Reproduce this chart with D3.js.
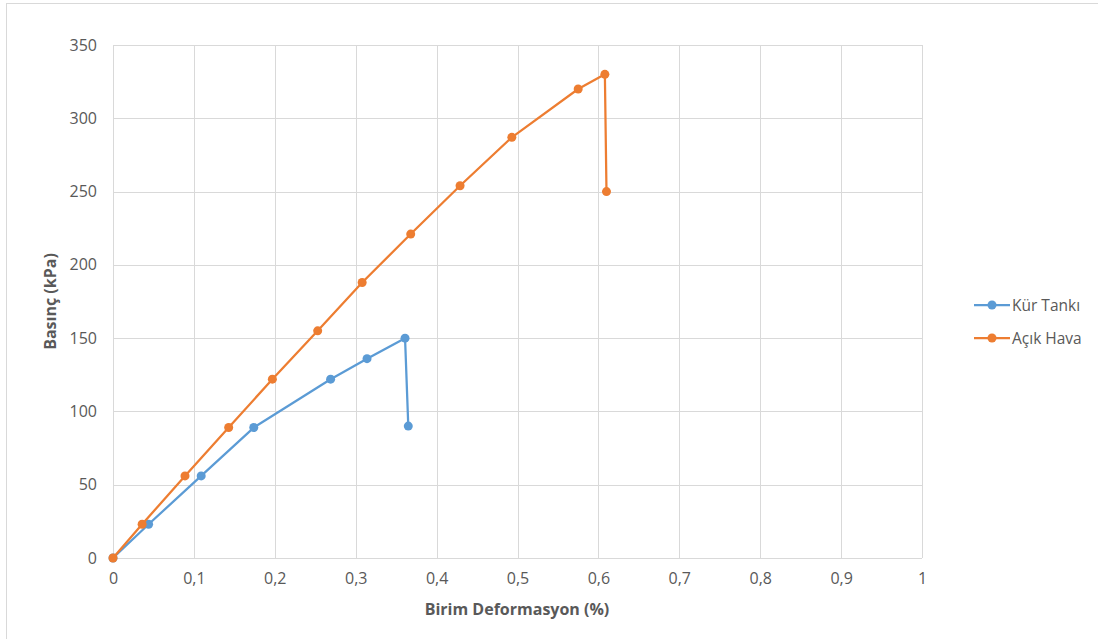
<!DOCTYPE html>
<html lang="tr">
<head>
<meta charset="UTF-8">
<title>Basınç - Birim Deformasyon</title>
<script src="https://d3js.org/d3.v7.min.js"></script>
<style>
  body { margin: 0; background: #fff; }
  text { font-family: "Open Sans", "Liberation Sans", sans-serif; }
</style>
</head>
<body>
<script>
// data
var seriesNames = ["Kür Tankı", "Açık Hava"];
var seriesColors = ["#5b9bd5", "#ed7d31"];
var kurX = [0, 0.044, 0.109, 0.174, 0.269, 0.314, 0.361, 0.365];
var kurY = [0, 23, 56, 89, 122, 136, 150, 90];
var acikX = [0, 0.036, 0.089, 0.143, 0.197, 0.253, 0.308, 0.368, 0.429, 0.493, 0.575, 0.608, 0.610];
var acikY = [0, 23, 56, 89, 122, 155, 188, 221, 254, 287, 320, 330, 250];
var xTicks = [0, 0.1, 0.2, 0.3, 0.4, 0.5, 0.6, 0.7, 0.8, 0.9, 1];
var yTicks = [0, 50, 100, 150, 200, 250, 300, 350];

var W = 1098, H = 639;
var margin = {left: 113, top: 45, right: 1098 - 922, bottom: 639 - 558};
var pw = W - margin.left - margin.right, ph = H - margin.top - margin.bottom;

var svg = d3.select("body").append("svg")
  .attr("width", W).attr("height", H);

// outer chart border
svg.append("rect")
  .attr("x", 6.5).attr("y", 3.5)
  .attr("width", W + 10).attr("height", H + 10)
  .attr("fill", "none").attr("stroke", "#d9d9d9");

var g = svg.append("g").attr("transform", "translate(" + margin.left + "," + margin.top + ")");

var x = d3.scaleLinear().domain([0, 1]).range([0, pw]);
var y = d3.scaleLinear().domain([0, 350]).range([ph, 0]);

// gridlines
g.selectAll(".vgrid").data(xTicks).enter().append("line")
  .attr("x1", d => Math.round(x(d)) + 0.5).attr("x2", d => Math.round(x(d)) + 0.5)
  .attr("y1", 0).attr("y2", ph)
  .attr("stroke", "#d9d9d9");
g.selectAll(".hgrid").data(yTicks).enter().append("line")
  .attr("x1", 0).attr("x2", pw)
  .attr("y1", d => Math.round(y(d)) + 0.5).attr("y2", d => Math.round(y(d)) + 0.5)
  .attr("stroke", "#d9d9d9");

// axes (labels only, no domain/ticks)
var fmt = d => String(d).replace(".", ",");
var xAxis = g.append("g").attr("transform", "translate(0," + ph + ")")
  .call(d3.axisBottom(x).tickValues(xTicks).tickFormat(fmt).tickSize(0).tickPadding(15));
var yAxis = g.append("g")
  .call(d3.axisLeft(y).tickValues(yTicks).tickSize(0).tickPadding(16));
[xAxis, yAxis].forEach(a => {
  a.select(".domain").remove();
  a.selectAll("text").attr("fill", "#595959").style("font-size", "16px")
    .style("font-family", "'Open Sans', sans-serif");
});
g.append("line").attr("x1", 0).attr("x2", pw).attr("y1", ph + 0.5).attr("y2", ph + 0.5)
  .attr("stroke", "#d9d9d9");

// axis titles
svg.append("text")
  .attr("x", 517).attr("y", 615)
  .attr("text-anchor", "middle")
  .attr("fill", "#595959").style("font-size", "16px").style("font-weight", "bold")
  .text("Birim Deformasyon (%)");
svg.append("text")
  .attr("transform", "translate(56," + (margin.top + ph / 2) + ") rotate(-90)")
  .attr("text-anchor", "middle")
  .attr("fill", "#595959").style("font-size", "16px").style("font-weight", "bold")
  .text("Basınç (kPa)");

// series
var series = [
  {name: seriesNames[0], color: seriesColors[0], pts: kurX.map((v, i) => [v, kurY[i]])},
  {name: seriesNames[1], color: seriesColors[1], pts: acikX.map((v, i) => [v, acikY[i]])}
];
var line = d3.line().x(d => x(d[0])).y(d => y(d[1]));

series.forEach(s => {
  g.append("path").datum(s.pts)
    .attr("d", line).attr("fill", "none")
    .attr("stroke", s.color).attr("stroke-width", 2.25)
    .attr("stroke-linejoin", "round");
  g.selectAll(null).data(s.pts).enter().append("circle")
    .attr("cx", d => x(d[0])).attr("cy", d => y(d[1])).attr("r", 4.5)
    .attr("fill", s.color);
});

// legend
var legend = svg.append("g").attr("transform", "translate(974,305)");
series.forEach((s, i) => {
  var row = legend.append("g").attr("transform", "translate(0," + (i * 33) + ")");
  row.append("line").attr("x1", 0).attr("x2", 36).attr("y1", 0).attr("y2", 0)
    .attr("stroke", s.color).attr("stroke-width", 2.25);
  row.append("circle").attr("cx", 18).attr("cy", 0).attr("r", 4.5).attr("fill", s.color);
  row.append("text").attr("x", 38).attr("y", 5.5)
    .attr("fill", "#595959").style("font-size", "15.5px")
    .text(s.name);
});
</script>
</body>
</html>
